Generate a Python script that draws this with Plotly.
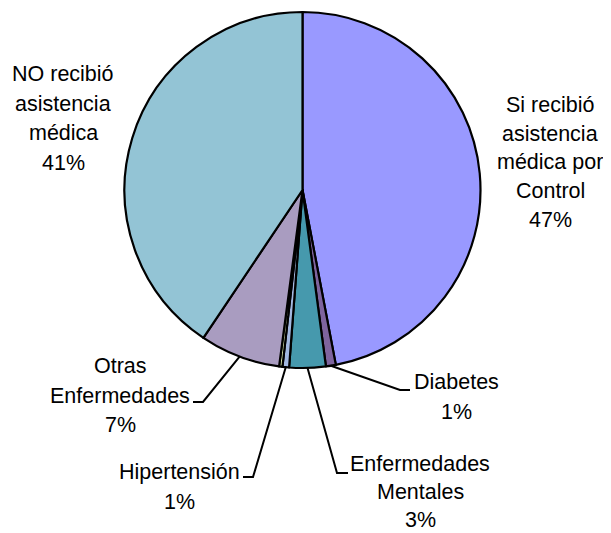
import math
import plotly.graph_objects as go

# ---- data ----
labels = ["Si recibió asistencia médica por Control", "Diabetes", "Enfermedades Mentales",
          "Hipertensión", "Otros", "Otras Enfermedades", "NO recibió asistencia médica"]
values = [47.0, 0.9, 3.3, 0.6, 0.3, 7.3, 40.6]
label_lines = [["Si recibió", "asistencia", "médica por", "Control", "47%"],
               ["Diabetes", "1%"],
               ["Enfermedades", "Mentales", "3%"],
               ["Hipertensión", "1%"],
               None,
               ["Otras", "Enfermedades", "7%"],
               ["NO recibió", "asistencia", "médica", "41%"]]
colors = ["#9999FF", "#7E649E", "#4699AD", "#A3B8E0", "#D7E4A8", "#A99CC0", "#93C4D5"]

W, H = 611, 533
OFF = 8  # page body margin of the html page
CX, CY, R = 302.5, 190.0, 178.0

def px(x):
    return (x - OFF) / W

def py(y):
    return 1 - (y - OFF) / H

# label layout (screen pixel positions: centre x, first-line centre y, line step) and leader elbows
label_pos = [(550, 105, 28.7), (456, 382, 30), (420, 464, 28.2), (179, 472, 30), None,
             (120, 366, 29.5), (63, 74.5, 29.5)]
elbows = [None, [(410, 390), (400, 390)], [(348, 473), (337, 473)],
          [(243, 477), (253, 477)], None, [(193, 402), (203, 402)], None]

fig = go.Figure(go.Pie(
    labels=labels, values=values, sort=False, direction="clockwise", rotation=0,
    marker=dict(colors=colors, line=dict(color="black", width=2.2)),
    textinfo="none", hoverinfo="label+percent", showlegend=False,
    domain=dict(x=[px(CX - R), px(CX + R)], y=[py(CY + R), py(CY - R)]),
))

font = dict(family="Liberation Sans, Arial", size=21.5, color="black")
total = sum(values)
cum = 0.0
for i, v in enumerate(values):
    mid = (cum + v / 2) / total * 2 * math.pi
    cum += v
    if label_lines[i] is None:
        continue
    lx, ly, step = label_pos[i]
    for k, line in enumerate(label_lines[i]):
        fig.add_annotation(x=px(lx), y=py(ly + k * step), xref="paper", yref="paper", text=line,
                           showarrow=False, font=font, align="center",
                           xanchor="center", yanchor="middle")
    if elbows[i]:
        ex = CX + R * math.sin(mid)
        ey = CY - R * math.cos(mid)
        pts = [elbows[i][0], elbows[i][1], (ex, ey)]
        path = "M {} {} L {} {} L {} {}".format(
            px(pts[0][0]), py(pts[0][1]), px(pts[1][0]), py(pts[1][1]), px(pts[2][0]), py(pts[2][1]))
        fig.add_shape(type="path", path=path, xref="paper", yref="paper",
                      line=dict(color="black", width=2))

fig.update_layout(width=W, height=H, margin=dict(l=0, r=0, t=0, b=0),
                  paper_bgcolor="white", plot_bgcolor="white")
fig.write_html("out.html")
